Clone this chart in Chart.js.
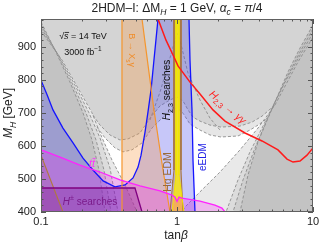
<!DOCTYPE html>
<html><head><meta charset="utf-8">
<script src="https://cdn.jsdelivr.net/npm/chart.js@4.4.1/dist/chart.umd.min.js"></script>
<style>html,body{margin:0;padding:0;background:#fff;overflow:hidden}canvas{display:block}</style>
</head><body>
<canvas id="c" width="332" height="247"></canvas>
<script>
// ---- axes ----
const xTicks = [0.1, 1, 10];
const xTickLabels = ['0.1', '1', '10'];
const yTicks = [400, 500, 600, 700, 800, 900];
const yMax = 984;

// ---- curves: [tanβ, M_H (GeV)] ----
const blueU = [[0.1,799],[0.111,754],[0.1225,709],[0.145,654],[0.172,609],[0.2036,563],[0.241,527],[0.286,494],[0.35,476],[0.415,482],[0.475,503],[0.517,536],[0.544,572],[0.582,642],[0.612,703],[0.644,769],[0.677,860],[0.70,920],[0.725,984]];
const blueR = [[1.225,984],[1.246,860],[1.289,709],[1.311,557],[1.356,400]];
const orangeL = [[0.394,984],[0.394,400]];
const orangeR = [[0.553,984],[0.612,845],[0.677,709],[0.713,648],[0.789,527],[0.888,400]];
const hgL = [[0.950,984],[0.950,527],[0.888,400]];
const hgR = [[1.07,984],[1.07,527],[1.107,400]];
const hgLL = [[0.1,572],[0.145,400]];
const yelL = [[0.983,984],[0.983,512],[0.919,400]];
const yelR = [[1.034,984],[1.034,512],[1.126,400]];
const redGG = [[0.725,984],[0.830,920],[0.935,875],[1.017,842],[1.246,793],[1.476,757],[1.839,709],[2.254,675],[3.162,639],[4.217,615],[5.53,588],[6.441,560],[7.129,551],[8.025,554],[9.035,572],[10,594]];
const ttbar = [[0.1,588],[0.138,566],[0.1935,542],[0.2715,521],[0.381,497],[0.5345,479],[0.75,464],[0.919,451],[0.967,445],[1.0,432],[1.034,445],[1.088,442],[1.476,433],[1.90,421],[2.14,412],[2.254,400]];
const hpm = [[0.1,472.6],[0.491,472.6],[0.553,400]];

// HL-LHC projection contours (dashed)
const L1 = [[0.1,975],[0.1267,890],[0.1634,793],[0.2036,700],[0.2371,618],[0.267,527],[0.2955,400]];
const L2 = [[0.1,966],[0.1311,881],[0.172,784],[0.2142,700],[0.2537,618],[0.2905,527],[0.3271,400]];
const L3 = [[0.1,957],[0.1357,872],[0.181,778],[0.2254,700],[0.2715,624],[0.3216,533],[0.3683,400]];
const L4 = [[0.1,948],[0.1427,860],[0.187,775],[0.2371,700],[0.2715,639],[0.3327,557],[0.4146,482],[0.5081,400]];
const R1 = [[10,966],[8.025,896],[6.552,824],[5.53,754],[4.668,684],[3.94,612],[3.327,512],[2.905,400]];
const R2 = [[10,954],[8.025,884],[6.441,808],[5.345,739],[4.512,672],[3.745,594],[3.057,497],[2.581,400]];
const R3 = [[10,942],[7.889,869],[6.228,793],[5.167,727],[4.217,654],[3.442,582],[2.808,497],[2.293,400]];
const R4 = [[10,929],[7.757,854],[6.122,775],[5.255,724],[3.94,654],[2.905,588],[2.071,521],[1.476,461],[1.145,415],[1.088,400]];
const Win = [[0.2412,693],[0.2715,663],[0.3216,633],[0.3809,618],[0.4362,621],[0.5345,639],[0.633,684],[0.75,721],[0.888,739],[1,748],[1.107,736],[1.205,709],[1.311,687],[1.476,675],[1.748,663],[2.106,657],[2.905,660],[3.56,672],[4.217,690],[5.255,724]];
const Wout = [[0.2581,657],[0.2955,624],[0.35,594],[0.4008,582],[0.4668,588],[0.5529,609],[0.6549,654],[0.7757,684],[0.888,702],[1,715],[1.07,705],[1.107,699],[1.246,666],[1.476,648],[1.748,633],[2.106,627],[2.808,630],[3.442,648],[3.94,663],[4.668,684]];
const Lambda = [[0.633,678],[0.75,763],[0.859,845],[0.967,920],[1,941],[1.052,920],[1.205,820],[1.476,739],[1.748,684],[2.071,648]];

// ---- build datasets ----
const P = a => a.map(p => ({x: p[0], y: p[1]}));
const datasets = [];
function addFill(poly, color) {
  datasets.push({data: P(poly), showLine: true, fill: 'shape', backgroundColor: color,
    borderColor: 'rgba(0,0,0,0)', borderWidth: 0, pointRadius: 0, tension: 0});
}
function addLine(curve, color, w, dash) {
  datasets.push({data: P(curve), showLine: true, fill: false, borderColor: color,
    borderWidth: w, borderDash: dash || [], pointRadius: 0, tension: 0});
}
function closeW(c) {
  const last = c[c.length - 1][1], first = c[0][1];
  return [...c, ...R4.filter(p => p[1] > last).reverse(), [10, yMax], [0.1, yMax], ...L4.filter(p => p[1] > first)];
}
const leftOut = L => [[0.1, yMax], ...L, [0.1, 400]];
const rightOut = R => [[10, yMax], ...R, [10, 400]];

// gray layers
addFill(closeW(Wout), '#e6e6e6');
addFill(closeW(Win), '#d4d4d4');
addFill(leftOut(L4), '#e9e9e9'); addFill(rightOut(R4), '#e9e9e9');
addFill(leftOut(L3), '#dcdcdc'); addFill(rightOut(R3), '#dcdcdc');
addFill(leftOut(L2), '#cfcfcf'); addFill(rightOut(R2), '#cfcfcf');
addFill(leftOut(L1), '#c3c3c3'); addFill(rightOut(R1), '#c3c3c3');
const dashC = '#8c8c8c';
[L1, L2, L3, L4, R1, R2, R3, R4, Win, Wout, Lambda].forEach(c => addLine(c, dashC, 0.9, [3, 2]));

// coloured regions
addFill([...hgLL, [0.1, 400]], 'rgba(170,110,60,0.22)');
addFill([...blueU, ...blueR, [0.1, 400]], 'rgba(70,70,235,0.3)');
addFill([...orangeL.slice(0, 1), ...orangeR, orangeL[1]], 'rgba(250,150,60,0.3)');
addFill([...hgL, ...hgR.slice().reverse()], 'rgba(170,120,70,0.35)');
addFill([...yelL, ...yelR.slice().reverse()], 'rgba(255,240,0,0.75)');
addFill([...ttbar, [0.1, 400]], 'rgba(255,0,255,0.22)');
addFill([...hpm, [0.1, 400]], 'rgba(110,0,130,0.25)');

// boundaries
addLine(blueU, '#1414ff', 1.3); addLine(blueR, '#1414ff', 1.3);
addLine(orangeL, '#f5962d', 1.2); addLine(orangeR, '#f5962d', 1.2);
addLine(hgL, '#a8743c', 1); addLine(hgR, '#a8743c', 1); addLine(hgLL, '#b07a3c', 1.1);
addLine(yelL, '#f2e600', 1); addLine(yelR, '#f2e600', 1);
addLine(ttbar, '#ff22ff', 1.3);
addLine(hpm, '#800080', 1.3);
addLine(redGG, '#ff1a1a', 1.5);

datasets.forEach((d, i) => d.order = datasets.length - i);

// ---- rich text helper ----
const FONT = '"Liberation Sans", Arial, sans-serif';
function rich(ctx, parts, x, y, size, color, align) {
  const items = parts.map(([t, s = '']) => {
    const it = s[0] === 'i';
    const sub = s.endsWith('sub'), sup = s.endsWith('sup'), bar = s.endsWith('bar');
    const sz = (sub || sup) ? size * 0.72 : size;
    const f = (it ? 'italic ' : '') + sz.toFixed(1) + 'px ' + FONT;
    ctx.font = f;
    return {t, f, w: ctx.measureText(t).width, sub, sup, bar};
  });
  const W = items.reduce((s, q) => s + q.w, 0);
  let cx = align === 'center' ? x - W / 2 : align === 'right' ? x - W : x;
  ctx.fillStyle = color; ctx.textAlign = 'left'; ctx.textBaseline = 'alphabetic';
  for (const q of items) {
    ctx.font = q.f;
    const dy = q.sub ? size * 0.28 : q.sup ? -size * 0.42 : 0;
    ctx.fillText(q.t, cx, y + dy);
    if (q.bar) ctx.fillRect(cx + 0.5, y - size * 0.82, q.w, 0.8);
    cx += q.w;
  }
}
function label(ctx, parts, px, py, size, color, angle) {
  ctx.save(); ctx.translate(px, py); ctx.rotate(angle || 0);
  rich(ctx, parts, 0, size * 0.35, size, color, 'center');
  ctx.restore();
}

const deco = {
  id: 'deco',
  afterDraw(chart) {
    const {ctx, chartArea: a, scales: {x, y}} = chart;
    const X = v => x.getPixelForValue(v), Y = v => y.getPixelForValue(v);
    ctx.save();
    // inner ticks
    ctx.strokeStyle = '#555'; ctx.lineWidth = 1;
    ctx.beginPath();
    for (let m = 400; m <= yMax; m += 20) {
      const py = Math.round(Y(m)) + 0.5, len = m % 100 === 0 ? 5 : 2.5;
      ctx.moveTo(a.left, py); ctx.lineTo(a.left + len, py);
      ctx.moveTo(a.right, py); ctx.lineTo(a.right - len, py);
    }
    for (const d of [0.1, 1]) for (let k = 1; k <= 10; k++) {
      const px = Math.round(X(k * d)) + 0.5, len = (k === 1 || k === 10) ? 5 : 2.5;
      ctx.moveTo(px, a.bottom); ctx.lineTo(px, a.bottom - len);
      ctx.moveTo(px, a.top); ctx.lineTo(px, a.top + len);
    }
    ctx.stroke();
    // frame
    ctx.strokeStyle = '#606060';
    ctx.strokeRect(Math.round(a.left) + 0.5, Math.round(a.top) + 0.5, Math.round(a.right - a.left) - 1, Math.round(a.bottom - a.top) - 1);

    // title
    rich(ctx, [['2HDM–I: ΔM'], ['H', 'isub'], [' = 1 GeV, '], ['α', 'i'], ['c', 'isub'], [' = '], ['π', 'i'], ['/4']],
      177, 12, 12, '#222', 'center');
    // axis titles
    label(ctx, [['M', 'i'], ['H', 'isub'], [' [GeV]']], 8, 113, 12, '#222', -Math.PI / 2);
    label(ctx, [['tan'], ['β', 'i']], 176, 235, 12, '#222', 0);

    // in-plot labels
    label(ctx, [['√'], ['s', 'ibar'], [' = 14 TeV']], X(0.2036), Y(932), 9, '#111', 0);
    label(ctx, [['3000 fb'], ['−1', 'sup']], X(0.2036), Y(884), 9, '#111', 0);
    label(ctx, [['B → X'], ['s', 'sub'], ['γ']], X(0.467), Y(890), 9, '#f08c28', Math.PI / 2);
    label(ctx, [['H', 'i'], ['2,3', 'sub'], [' searches']], X(0.844), Y(769), 10, '#111', -Math.PI / 2);
    label(ctx, [['Hg EDM']], X(0.844), Y(521), 10.5, '#9a6b3c', -Math.PI / 2);
    label(ctx, [['eEDM']], X(1.55), Y(566), 10, '#1f1fe6', -Math.PI / 2);
    label(ctx, [['H', 'i'], ['2,3', 'sub'], [' → '], ['γγ', 'i']], X(2.37), Y(718), 10.5, '#ff2020', 41 * Math.PI / 180);
    label(ctx, [['t', 'i'], ['t', 'ibar']], X(0.2371), Y(548), 11, '#ff30ff', 0);
    label(ctx, [['H', 'i'], ['±', 'sup'], [' searches']], X(0.2293), Y(433), 10, '#7a1a8a', 0);
    ctx.restore();
  }
};

new Chart(document.getElementById('c'), {
  type: 'scatter',
  data: {datasets},
  options: {
    responsive: false, animation: false, devicePixelRatio: 1, events: [],
    layout: {padding: {top: 19, right: 19, left: 0, bottom: 0}},
    plugins: {legend: {display: false}, tooltip: {enabled: false}, title: {display: false}},
    scales: {
      x: {
        type: 'logarithmic', min: 0.1, max: 10,
        afterBuildTicks: s => { s.ticks = xTicks.map(v => ({value: v})); },
        afterFit: s => { s.height = 35; },
        grid: {display: false, drawTicks: false}, border: {display: false},
        ticks: {autoSkip: false, maxRotation: 0, minRotation: 0, padding: 3, color: '#222',
          font: {family: FONT, size: 11},
          callback: (v, i) => xTickLabels[i]}
      },
      y: {
        type: 'linear', min: 400, max: yMax,
        afterBuildTicks: s => { s.ticks = yTicks.map(v => ({value: v})); },
        afterFit: s => { s.width = 41; },
        grid: {display: false, drawTicks: false}, border: {display: false},
        ticks: {padding: 5, color: '#222', font: {family: FONT, size: 11}}
      }
    }
  },
  plugins: [deco]
});
</script>
</body></html>
